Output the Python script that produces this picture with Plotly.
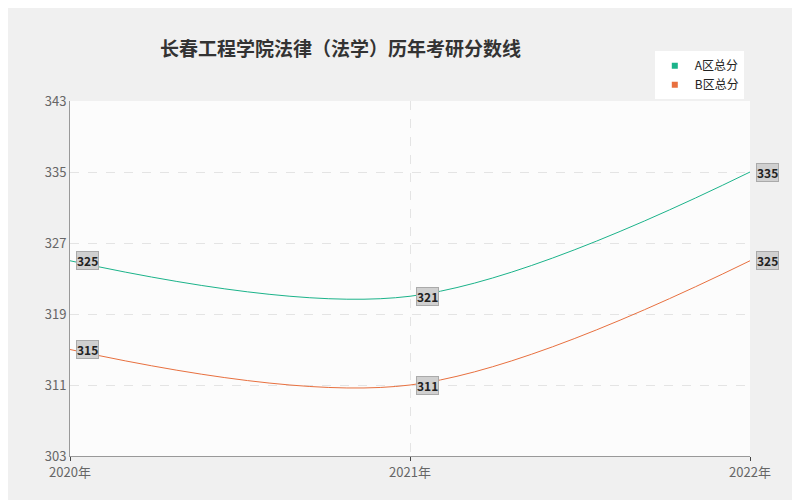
import plotly.graph_objects as go

years = ['2020年', '2021年', '2022年']
a_scores = [325, 321, 335]
b_scores = [315, 311, 325]
y_ticks = [303, 311, 319, 327, 335, 343]

font = 'Noto Sans CJK SC'
fig = go.Figure()
for name, vals, color in [('A区总分', a_scores, '#1bb38a'), ('B区总分', b_scores, '#e8703f')]:
    fig.add_trace(go.Scatter(x=[0, 1, 2], y=vals, name=name, mode='lines',
                             line=dict(color=color, width=1, shape='spline', smoothing=1.0),
                             showlegend=False))
    # legend entry with square marker
    fig.add_trace(go.Scatter(x=[None], y=[None], name=name, mode='markers',
                             marker=dict(symbol='square', size=6, color=color)))
    for i, v in enumerate(vals):
        fig.add_annotation(x=i, y=v, text='<b>%d</b>' % v, showarrow=False, xanchor='left',
                           xshift=6, bgcolor='#d0d0d0', bordercolor='#aaaaaa', borderwidth=1,
                           borderpad=0, font=dict(size=12, color='#222', family=font))

fig.update_layout(
    width=800, height=500, paper_bgcolor='#f0f0f0', plot_bgcolor='#fcfcfc',
    margin=dict(l=62, r=58, t=93, b=52),
    title=dict(text='<b>长春工程学院法律（法学）历年考研分数线</b>', x=0.19, y=0.93,
               font=dict(size=19, color='#333', family=font)),
    legend=dict(x=0.86, y=1.14, xanchor='left', yanchor='top', bgcolor='white',
                font=dict(size=12, family=font, color='#222'), itemwidth=30),
    xaxis=dict(range=[0, 2], tickvals=[0, 1, 2], ticktext=years, showgrid=True,
               gridcolor='#e4e4e4', griddash='dash', zeroline=False, showline=True,
               linecolor='#999', ticks='outside', ticklen=4,
               tickfont=dict(size=13, color='#666', family=font)),
    yaxis=dict(range=[303, 343], tickvals=y_ticks, showgrid=True, gridcolor='#e4e4e4',
               griddash='dash', zeroline=False, showline=True, linecolor='#999',
               tickfont=dict(size=13, color='#666', family=font)),
)
fig.write_html('out.html')
